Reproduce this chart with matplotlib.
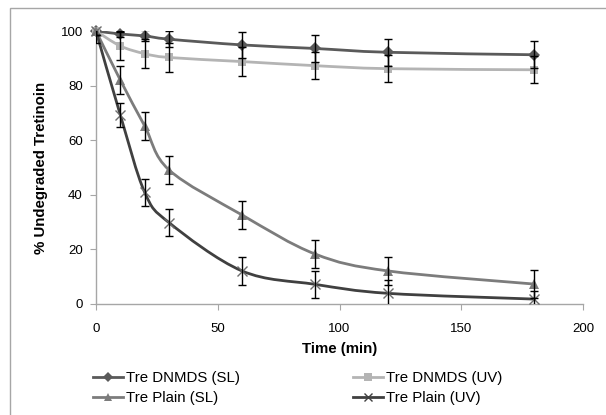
import numpy as np
import matplotlib
matplotlib.use("Agg")
import matplotlib.pyplot as plt
from matplotlib.path import Path
from matplotlib.patches import PathPatch, Rectangle
from matplotlib.lines import Line2D

plt.rcParams['font.family'] = ['Liberation Sans', 'DejaVu Sans']

time = [0, 10, 20, 30, 60, 90, 120, 180]
dnmds_sl = [100, 98.9, 98.2, 97.0, 94.9, 93.6, 92.2, 91.3]
dnmds_sl_err = [4.4, 1.0, 2.0, 3.0, 4.8, 4.8, 5.0, 5.0]
dnmds_uv = [100, 94.5, 91.7, 90.3, 88.8, 87.3, 86.2, 85.8]
dnmds_uv_err = [1.5, 5.0, 5.3, 5.2, 5.3, 5.0, 5.0, 5.0]
plain_sl = [100, 82.0, 65.2, 49.1, 32.6, 18.3, 12.1, 7.3]
plain_sl_err = [1.5, 5.0, 5.0, 5.0, 5.0, 5.0, 5.0, 5.0]
plain_uv = [100, 69.2, 40.9, 29.8, 12.1, 7.2, 3.9, 1.8]
plain_uv_err = [1.5, 4.5, 5.0, 5.0, 5.0, 5.0, 5.0, 3.0]

labels = ['Tre DNMDS (SL)', 'Tre DNMDS (UV)', 'Tre Plain (SL)', 'Tre Plain (UV)']
colors = ['#5a5a5a', '#b4b4b4', '#7c7c7c', '#404040']
markers = ['D', 's', '^', 'x']
msizes = [6, 6, 7, 7]

fig = plt.figure(figsize=(6.06, 4.15), dpi=100)
W, H = 606, 415
# outer chart frame (left and top visible)
fig.patches.append(Rectangle((9.5 / W, -0.1), 1.2, (H - 8.5) / H + 0.1,
                             transform=fig.transFigure, fill=False,
                             edgecolor='#a6a6a6', linewidth=1.0))

ax = fig.add_axes([96 / W, 1 - 304 / H, (583 - 96) / W, (304 - 31) / H])
ax.set_xlim(0, 200)
ax.set_ylim(0, 100)


def smooth_path(x, y, t=0.1667):
    x = np.asarray(x, float)
    y = np.asarray(y, float)
    verts = [(x[0], y[0])]
    codes = [Path.MOVETO]
    n = len(x)
    for i in range(n - 1):
        p0 = (x[max(i - 1, 0)], y[max(i - 1, 0)])
        p1 = (x[i], y[i])
        p2 = (x[i + 1], y[i + 1])
        p3 = (x[min(i + 2, n - 1)], y[min(i + 2, n - 1)])
        c1 = (p1[0] + (p2[0] - p0[0]) * t, p1[1] + (p2[1] - p0[1]) * t)
        c2 = (p2[0] - (p3[0] - p1[0]) * t, p2[1] - (p3[1] - p1[1]) * t)
        verts += [c1, c2, p2]
        codes += [Path.CURVE4] * 3
    return Path(verts, codes)


series = [(dnmds_sl, dnmds_sl_err), (dnmds_uv, dnmds_uv_err),
          (plain_sl, plain_sl_err), (plain_uv, plain_uv_err)]

for (vals, errs), c, m, ms, lab in zip(series, colors, markers, msizes, labels):
    ax.add_patch(PathPatch(smooth_path(time, vals), facecolor='none',
                           edgecolor=c, linewidth=2.0, zorder=2))
    ax.errorbar(time, vals, yerr=errs, fmt='none', ecolor='black',
                elinewidth=1.0, capsize=3, capthick=1.0, zorder=4)
    mew = 1.0 if m == 'x' else 0
    mc = '#6e6e6e' if m == 'x' else c
    ax.plot(time, vals, linestyle='none', marker=m, markersize=ms,
            color=mc, markeredgewidth=mew, zorder=3, clip_on=False)

for s in ['top', 'right']:
    ax.spines[s].set_visible(False)
for s in ['left', 'bottom']:
    ax.spines[s].set_color('#a6a6a6')
    ax.spines[s].set_linewidth(1.0)

ax.set_xticks([0, 50, 100, 150, 200])
ax.set_yticks([0, 20, 40, 60, 80, 100])
ax.tick_params(axis='both', direction='out', length=4.5, color='#a6a6a6',
               labelsize=9.5)
ax.tick_params(axis='y', pad=5)
ax.tick_params(axis='x', pad=9)
ax.set_xlabel('Time (min)', fontsize=10.8, fontweight='bold', labelpad=5)
ax.set_ylabel('% Undegraded Tretinoin', fontsize=10.8, fontweight='bold',
              labelpad=9)

handles = [Line2D([], [], color=c, marker=m, markersize=ms * 0.85, linewidth=2,
                  markeredgewidth=(1.0 if m == 'x' else 0))
           for c, m, ms in zip(colors, markers, msizes)]
order = [0, 2, 1, 3]
fig.legend([handles[i] for i in order], [labels[i] for i in order],
           loc='upper left', bbox_to_anchor=(93 / W, 1 - 371 / H),
           ncol=2, frameon=False, fontsize=10.8, handlelength=2.0,
           handletextpad=0.2, columnspacing=7.5, labelspacing=0.4,
           borderaxespad=0, borderpad=0)

fig.savefig('out.png', dpi=100)
